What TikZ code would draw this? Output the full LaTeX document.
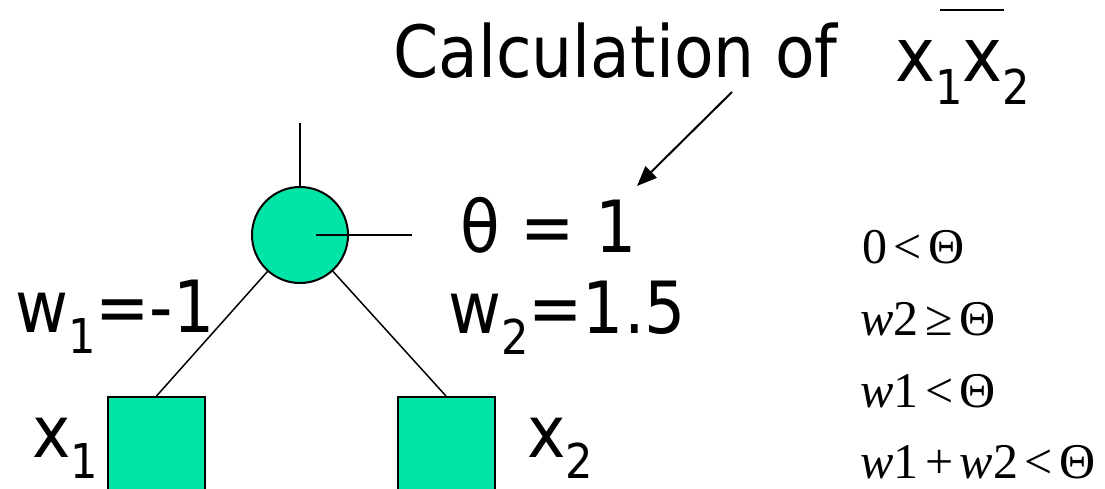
\documentclass[tikz,border=0pt]{standalone}
\usepackage{fontspec}
\setmainfont{DejaVu Sans}[FakeStretch=0.9]
\newfontfamily\eqfont{Liberation Serif}
\usetikzlibrary{arrows.meta}
\definecolor{neurongreen}{RGB}{0,228,168}
\newcommand{\lowsub}[1]{\raisebox{-0.3em}{\fontsize{48}{48}\selectfont #1}}
\newcommand{\wvar}{{\itshape w}}
\newcommand{\gap}{\hspace{0.13em}}

\begin{document}
\begin{tikzpicture}[x=1pt,y=-1pt]
    \pgfmathsetmacro{\boxside}{97}
    \pgfmathsetmacro{\radius}{48}
    \tikzset{
        neuron/.style={circle,draw,line width=2,fill=neurongreen,minimum size=2*\radius,inner sep=0},
        inputbox/.style={rectangle,draw,line width=2,fill=neurongreen,minimum width=\boxside,minimum height=\boxside,inner sep=0},
        label/.style={inner sep=0,anchor=base west,font=\fontsize{72}{80}\selectfont},
        cond/.style={inner sep=0,anchor=base west,font=\eqfont\fontsize{50}{54}\selectfont},
        wire/.style={line width=1.5},
        stub/.style={line width=2.5},
        pointer/.style={line width=2,-{Triangle[length=20,width=16]}}
    }
    \useasboundingbox (0,0) rectangle (1105,489);
    \clip (0,0) rectangle (1105,489);
    \node[label] (calc) at (393,78) {Calculation of};
    \node[label,font=\fontsize{75}{80}\selectfont] (prod) at (895,82) {x\lowsub{1}x\lowsub{2}};
    \draw[line width=2] (940,10) -- (1004,10);
    \node[neuron] (neuron) at (300,235) {};
    \node[inputbox] (in1) at (156.5,445.5) {};
    \node[inputbox] (in2) at (446,445.5) {};
    \node[label] (theta) at (460,252) {θ = 1};
    \node[label] (w1) at (15,332) {w\lowsub{1}=-1};
    \node[label] (w2) at (448,333) {w\lowsub{2}=1.5};
    \node[label] (x1) at (32,457) {x\lowsub{1}};
    \node[label] (x2) at (527,457) {x\lowsub{2}};
    \node[cond] (c1) at (862,263) {0\gap<\gap Θ};
    \node[cond] (c2) at (860,335) {\wvar2\gap≥\gap Θ};
    \node[cond] (c3) at (860,407) {\wvar1\gap<\gap Θ};
    \node[cond] (c4) at (860,478) {\wvar1\gap+\gap\wvar2\gap<\gap Θ};
    \coordinate (axon) at (300,123);
    \coordinate (thrin) at (316,235);
    \coordinate (thrend) at (412,235);
    \coordinate (arrtail) at (732,92);
    \coordinate (arrtip) at (637,186);
    \draw[stub] (neuron) -- (axon);
    \draw[stub] (thrin) -- (thrend);
    \draw[wire] (neuron) -- (in1.north);
    \draw[wire] (neuron) -- (in2.north);
    \draw[pointer] (arrtail) -- (arrtip);
\end{tikzpicture}
\end{document}
